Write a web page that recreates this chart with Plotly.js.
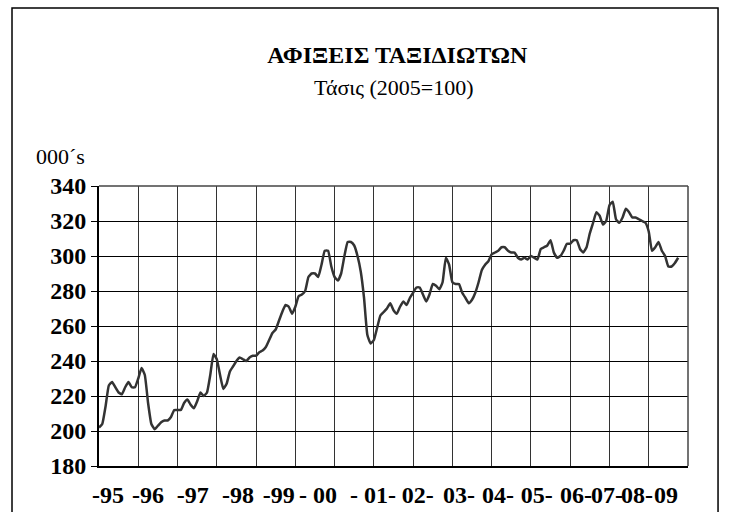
<!DOCTYPE html>
<html>
<head>
<meta charset="utf-8">
<script src="https://cdn.plot.ly/plotly-3.0.1.min.js"></script>
<style>html,body{margin:0;padding:0;background:#fff;}#chart{width:729px;height:512px;}</style>
</head>
<body>
<div id="chart"></div>
<script>
// Monthly trend of traveller arrivals, Jan 1995 onward (000's)
const startYear = 1995;
const arrivals = [
202,204,214,226,228,225,222,221,225,228,225,225,
230,236,232,216,204,201,203,205,206,206,208,212,
212,212,216,218,215,213,217,222,220,222,232,244,
241,232,224,227,234,237,240,242,241,240,242,243,
243,245,246,248,252,256,258,263,268,272,271,267,
271,277,278,280,288,290,290,288,295,303,303,294,
288,286,290,300,308,308,306,300,291,276,255,250,
252,259,266,268,270,273,269,267,271,274,272,276,
279,282,282,278,274,278,284,283,281,285,299,295,
285,284,284,279,276,273,275,279,285,292,295,297,
301,302,303,305,305,303,302,302,299,298,299,298,
300,299,298,304,305,306,309,302,299,300,303,307,
307,309,309,304,302,305,313,319,325,323,318,320,
329,331,321,319,322,327,325,322,322,321,320,319,
314,303,305,308,303,300,294,294,296,299
];
const yearLabels = ["-95","-96","-97","-98","-99","- 00","- 01-","02-","03-","04-","05-","06-","07-","08-","09"];
const yTicks = [180,200,220,240,260,280,300,320,340];

const months = arrivals.map((v, i) => startYear + i / 12);
const labelPos = [1995.23,1996.25,1997.39,1998.54,1999.58,2000.58,2001.98,2003.12,2004.17,2005.16,2006.15,2007.15,2007.94,2008.70,2009.44];

const serif = "Liberation Serif, Times New Roman, serif";

const trace = {
  x: months, y: arrivals, type: "scatter", mode: "lines",
  line: {color: "#333333", width: 2.5, shape: "spline", smoothing: 0.4},
  hoverinfo: "skip", showlegend: false
};
const labelTrace = {
  x: [startYear], y: [null], xaxis: "x2", yaxis: "y", type: "scatter", mode: "lines",
  showlegend: false, hoverinfo: "skip"
};

const layout = {
  width: 729, height: 512,
  paper_bgcolor: "#ffffff", plot_bgcolor: "#ffffff",
  margin: {l: 99, r: 41, t: 186, b: 46},
  font: {family: serif, color: "#000"},
  title: {
    text: "<b>ΑΦΙΞΕΙΣ ΤΑΞΙΔΙΩΤΩΝ</b>",
    font: {family: serif, size: 24, color: "#000"},
    x: 0.545, xanchor: "center", xref: "container",
    y: 0.893, yanchor: "middle", yref: "container"
  },
  xaxis: {
    range: [1995, 2010], tick0: 1995, dtick: 1,
    showgrid: true, gridcolor: "#333333", gridwidth: 1,
    showticklabels: false, ticks: "",
    showline: true, linecolor: "#000", linewidth: 2, mirror: false,
    zeroline: false, fixedrange: true
  },
  xaxis2: {
    overlaying: "x", anchor: "y", side: "bottom",
    range: [1995, 2010], tickmode: "array",
    tickvals: labelPos, ticktext: yearLabels,
    showgrid: false, zeroline: false, showline: false,
    ticks: "outside", ticklen: 7, tickcolor: "rgba(0,0,0,0)",
    tickfont: {family: serif, size: 24, color: "#000", weight: "bold"},
    tickangle: 0
  },
  yaxis: {
    range: [180, 340], tickmode: "array", tickvals: yTicks,
    showgrid: true, gridcolor: "#000000", gridwidth: 1,
    showline: true, linecolor: "#000", linewidth: 2, mirror: false,
    ticks: "outside", ticklen: 6, tickcolor: "#000", tickwidth: 1,
    tickfont: {family: serif, size: 24, color: "#000", weight: "bold"},
    zeroline: false, fixedrange: true
  },
  annotations: [
    {text: "Τάσις (2005=100)", xref: "paper", yref: "paper", x: 0.5, y: 1.35,
     xanchor: "center", yanchor: "middle", showarrow: false,
     font: {family: serif, size: 22, color: "#000"}},
    {text: "000´s", xref: "paper", yref: "paper", x: -0.11, y: 1.105,
     xanchor: "left", yanchor: "middle", showarrow: false,
     font: {family: serif, size: 22, color: "#000"}}
  ],
  shapes: [
    {type: "rect", xref: "paper", yref: "paper", x0: -0.1477, x1: 1.051, y0: -0.2, y1: 1.636,
     line: {color: "#000", width: 1.5}, fillcolor: "rgba(0,0,0,0)", layer: "below"},
    {type: "line", xref: "paper", yref: "paper", x0: 0, x1: 1, y0: 1, y1: 1,
     line: {color: "#444", width: 1.5}},
    {type: "line", xref: "paper", yref: "paper", x0: 1, x1: 1, y0: 0, y1: 1,
     line: {color: "#444", width: 1.5}}
  ]
};

Plotly.newPlot("chart", [trace, labelTrace], layout, {staticPlot: true, displayModeBar: false});
</script>
</body>
</html>
